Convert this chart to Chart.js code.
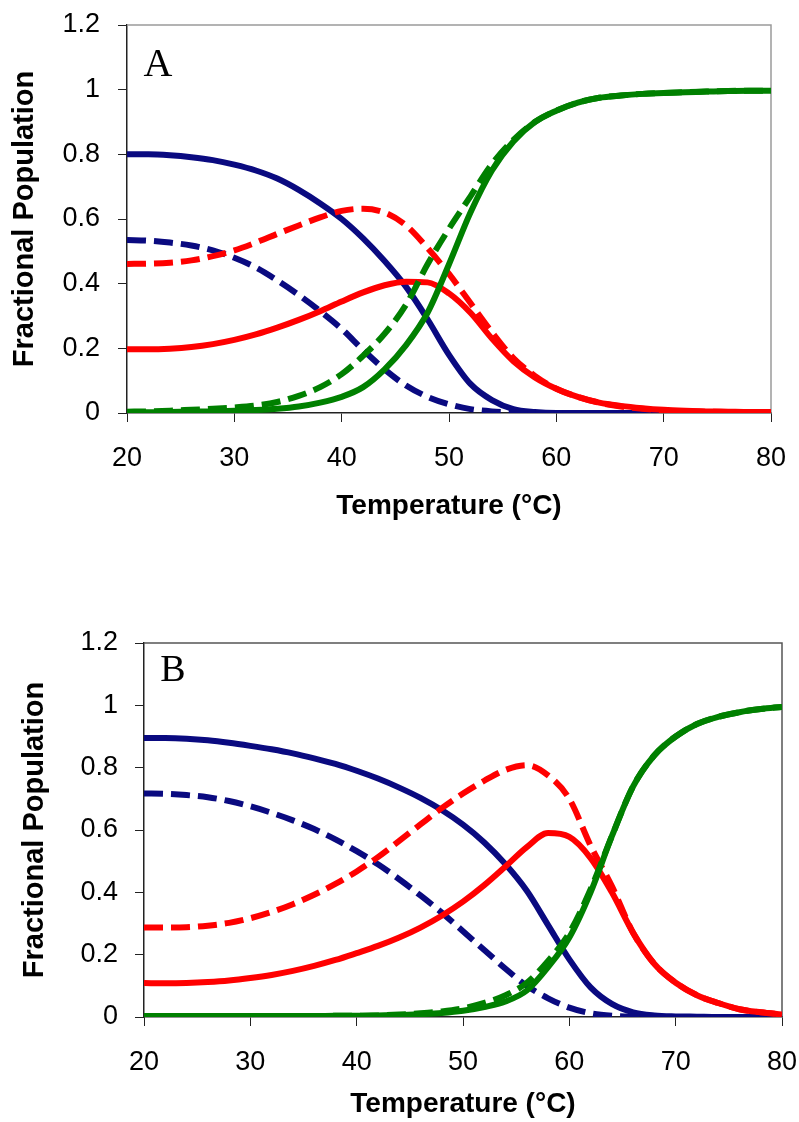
<!DOCTYPE html>
<html>
<head>
<meta charset="utf-8">
<script src="https://cdn.jsdelivr.net/npm/chart.js@4.4.1/dist/chart.umd.min.js"></script>
<style>
  body { margin: 0; background: #fff; }
  canvas { position: absolute; left: 0; }
  #chart_a { top: 0; }
  #chart_b { top: 560px; }
</style>
</head>
<body>
<canvas id="chart_a" width="799" height="540"></canvas>
<canvas id="chart_b" width="799" height="562"></canvas>
<script>
// 温度 (°C)
var temps = [20, 22, 24, 26, 28, 30, 32, 34, 36, 38, 40, 42, 44, 46, 48, 50,
             52, 54, 56, 58, 60, 62, 64, 66, 68, 70, 72, 74, 76, 78, 80];
var yTicks = [0, 0.2, 0.4, 0.6, 0.8, 1, 1.2];

// A: 実線 / 破線
var aNativeSolid  = [0.80, 0.80, 0.797, 0.791, 0.782, 0.768, 0.75, 0.725, 0.69, 0.648, 0.60, 0.54, 0.47, 0.39, 0.29, 0.18,
                     0.09, 0.04, 0.012, 0.003, 0, 0, 0, 0, 0, 0, 0, 0, 0, 0, 0];
var aNativeDashed = [0.535, 0.533, 0.527, 0.518, 0.503, 0.48, 0.45, 0.41, 0.365, 0.315, 0.26, 0.195, 0.135, 0.085, 0.05, 0.027,
                     0.012, 0.005, 0.002, 0, 0, 0, 0, 0, 0, 0, 0, 0, 0, 0, 0];
var aInterSolid   = [0.197, 0.197, 0.199, 0.204, 0.213, 0.226, 0.243, 0.264, 0.288, 0.315, 0.345, 0.373, 0.395, 0.406, 0.404, 0.37,
                     0.31, 0.23, 0.16, 0.11, 0.075, 0.05, 0.032, 0.022, 0.015, 0.01, 0.007, 0.005, 0.004, 0.003, 0.003];
var aInterDashed  = [0.461, 0.462, 0.465, 0.472, 0.485, 0.503, 0.527, 0.554, 0.58, 0.605, 0.625, 0.632, 0.62, 0.58, 0.51, 0.43,
                     0.34, 0.25, 0.17, 0.115, 0.075, 0.05, 0.032, 0.02, 0.013, 0.008, 0.005, 0.004, 0.003, 0.003, 0.003];
var aUnfoldSolid  = [0.002, 0.002, 0.003, 0.004, 0.005, 0.007, 0.009, 0.013, 0.02, 0.032, 0.05, 0.08, 0.135, 0.21, 0.31, 0.46,
                     0.62, 0.75, 0.84, 0.90, 0.935, 0.96, 0.975, 0.982, 0.987, 0.99, 0.992, 0.994, 0.996, 0.997, 0.997];
var aUnfoldDashed = [0.004, 0.005, 0.007, 0.01, 0.013, 0.017, 0.023, 0.034, 0.053, 0.08, 0.12, 0.177, 0.245, 0.335, 0.46, 0.57,
                     0.67, 0.77, 0.845, 0.90, 0.935, 0.96, 0.975, 0.982, 0.987, 0.99, 0.992, 0.994, 0.996, 0.997, 0.997];

// B: 実線 / 破線
var bNativeSolid  = [0.895, 0.895, 0.893, 0.888, 0.88, 0.87, 0.859, 0.846, 0.83, 0.812, 0.79, 0.765, 0.736, 0.703, 0.664, 0.617,
                     0.56, 0.49, 0.405, 0.295, 0.185, 0.095, 0.042, 0.015, 0.005, 0.002, 0.001, 0, 0, 0, 0];
var bNativeDashed = [0.717, 0.716, 0.712, 0.705, 0.693, 0.676, 0.655, 0.631, 0.603, 0.57, 0.532, 0.49, 0.442, 0.39, 0.335, 0.275,
                     0.215, 0.155, 0.10, 0.06, 0.03, 0.012, 0.004, 0.001, 0, 0, 0, 0, 0, 0, 0];
var bInterSolid   = [0.109, 0.108, 0.109, 0.112, 0.117, 0.125, 0.135, 0.148, 0.164, 0.183, 0.205, 0.228, 0.255, 0.287, 0.325, 0.37,
                     0.423, 0.483, 0.545, 0.59, 0.578, 0.51, 0.40, 0.27, 0.17, 0.11, 0.07, 0.045, 0.025, 0.015, 0.008];
var bInterDashed  = [0.287, 0.287, 0.288, 0.293, 0.302, 0.317, 0.337, 0.362, 0.392, 0.427, 0.467, 0.513, 0.565, 0.618, 0.67, 0.717,
                     0.758, 0.793, 0.808, 0.775, 0.70, 0.55, 0.42, 0.27, 0.17, 0.11, 0.07, 0.045, 0.025, 0.015, 0.008];
var bUnfoldSolid  = [0.003, 0.003, 0.003, 0.003, 0.003, 0.003, 0.003, 0.003, 0.003, 0.004, 0.004, 0.005, 0.006, 0.009, 0.013, 0.02,
                     0.032, 0.05, 0.085, 0.16, 0.255, 0.40, 0.58, 0.74, 0.84, 0.90, 0.94, 0.963, 0.978, 0.988, 0.995];
var bUnfoldDashed = [0.003, 0.003, 0.003, 0.003, 0.003, 0.003, 0.003, 0.003, 0.003, 0.004, 0.004, 0.005, 0.008, 0.012, 0.018, 0.028,
                     0.045, 0.07, 0.11, 0.18, 0.27, 0.41, 0.58, 0.74, 0.84, 0.90, 0.94, 0.963, 0.978, 0.988, 0.995];

var NAVY = '#0a0a80';
var RED = '#ff0000';
var GREEN = '#008000';

function points(values) {
  return temps.map(function(t, i) { return {x: t, y: values[i]}; });
}

function line(values, color, dashed) {
  return {
    data: points(values),
    borderColor: color,
    borderWidth: 6,
    borderDash: dashed ? [19, 8] : [],
    pointRadius: 0,
    cubicInterpolationMode: 'monotone',
    fill: false,
  };
}

// 上と右の枠線、パネル文字
var framePlugin = {
  id: 'frame',
  beforeDatasetsDraw: function(chart, args, opts) {
    var a = chart.chartArea;
    var c = chart.ctx;
    c.save();
    c.strokeStyle = opts.color;
    c.lineWidth = 1.5;
    c.beginPath();
    c.moveTo(a.left, a.top);
    c.lineTo(a.right, a.top);
    c.lineTo(a.right, a.bottom);
    c.stroke();
    c.restore();
  },
  afterDraw: function(chart, args, opts) {
    var c = chart.ctx;
    c.save();
    c.fillStyle = '#000';
    c.font = opts.size + 'px "Liberation Serif", "Times New Roman", serif';
    c.textAlign = 'center';
    c.textBaseline = 'middle';
    c.fillText(opts.label, opts.x, opts.y);
    c.restore();
  }
};

var SANS = '"Liberation Sans", Arial, sans-serif';

function makeChart(id, datasets, s) {
  var axisColor = '#222';
  return new Chart(document.getElementById(id), {
    type: 'line',
    data: { datasets: datasets },
    plugins: [framePlugin],
    options: {
      responsive: false,
      animation: false,
      events: [],
      layout: { padding: { top: s.top, right: s.right, left: 0, bottom: 0 } },
      plugins: {
        legend: { display: false },
        tooltip: { enabled: false },
        frame: { color: s.frameColor, label: s.label, x: s.labelX, y: s.labelY, size: s.labelSize },
      },
      scales: {
        x: {
          type: 'linear',
          min: 20,
          max: 80,
          // 軸の高さを固定、端のラベルの余白は無視
          afterFit: function(scale) {
            scale.height = s.xHeight;
            scale.paddingLeft = 0;
            scale.paddingRight = 0;
          },
          ticks: {
            stepSize: 10,
            color: '#000',
            padding: s.xTickPad,
            maxRotation: 0,
            font: { family: SANS, size: 27 },
          },
          grid: { drawOnChartArea: false, drawTicks: true, tickLength: 9, color: axisColor },
          border: { display: true, color: axisColor, width: 1.5 },
          title: {
            display: true,
            text: 'Temperature (°C)',
            color: '#000',
            font: { family: SANS, size: 28, weight: 'bold' },
            padding: { top: 0, bottom: s.xTitlePad },
          },
        },
        y: {
          min: 0,
          max: 1.2,
          afterFit: function(scale) {
            scale.width = s.yWidth;
            scale.paddingTop = 0;
            scale.paddingBottom = 0;
          },
          afterBuildTicks: function(scale) {
            scale.ticks = yTicks.map(function(v) { return {value: v}; });
          },
          ticks: {
            color: '#000',
            padding: s.yTickPad,
            font: { family: SANS, size: 27 },
            callback: function(v) { return String(Math.round(v * 10) / 10); },
          },
          grid: { drawOnChartArea: false, drawTicks: true, tickLength: 9, color: axisColor },
          border: { display: true, color: axisColor, width: 1.5 },
          title: {
            display: true,
            text: 'Fractional Population',
            color: '#000',
            font: { family: SANS, size: 29, weight: 'bold' },
            padding: { top: s.yTitlePad, bottom: 0 },
          },
        },
      },
    },
  });
}

// グラフA
var chartA = makeChart('chart_a', [
  line(aUnfoldDashed, GREEN, true),
  line(aUnfoldSolid, GREEN, false),
  line(aInterDashed, RED, true),
  line(aInterSolid, RED, false),
  line(aNativeDashed, NAVY, true),
  line(aNativeSolid, NAVY, false),
], {
  top: 25, right: 28, xHeight: 127, yWidth: 127,
  xTickPad: 20, yTickPad: 18, xTitlePad: 17, yTitlePad: 8,
  frameColor: '#9a9a9a', label: 'A', labelX: 158, labelY: 65, labelSize: 40,
});

// グラフB
var chartB = makeChart('chart_b', [
  line(bUnfoldDashed, GREEN, true),
  line(bUnfoldSolid, GREEN, false),
  line(bInterDashed, RED, true),
  line(bInterSolid, RED, false),
  line(bNativeDashed, NAVY, true),
  line(bNativeSolid, NAVY, false),
], {
  top: 83, right: 17, xHeight: 105, yWidth: 144,
  xTickPad: 20, yTickPad: 17, xTitlePad: 1, yTitlePad: 18,
  frameColor: '#555', label: 'B', labelX: 173, labelY: 111, labelSize: 38,
});
</script>
</body>
</html>
